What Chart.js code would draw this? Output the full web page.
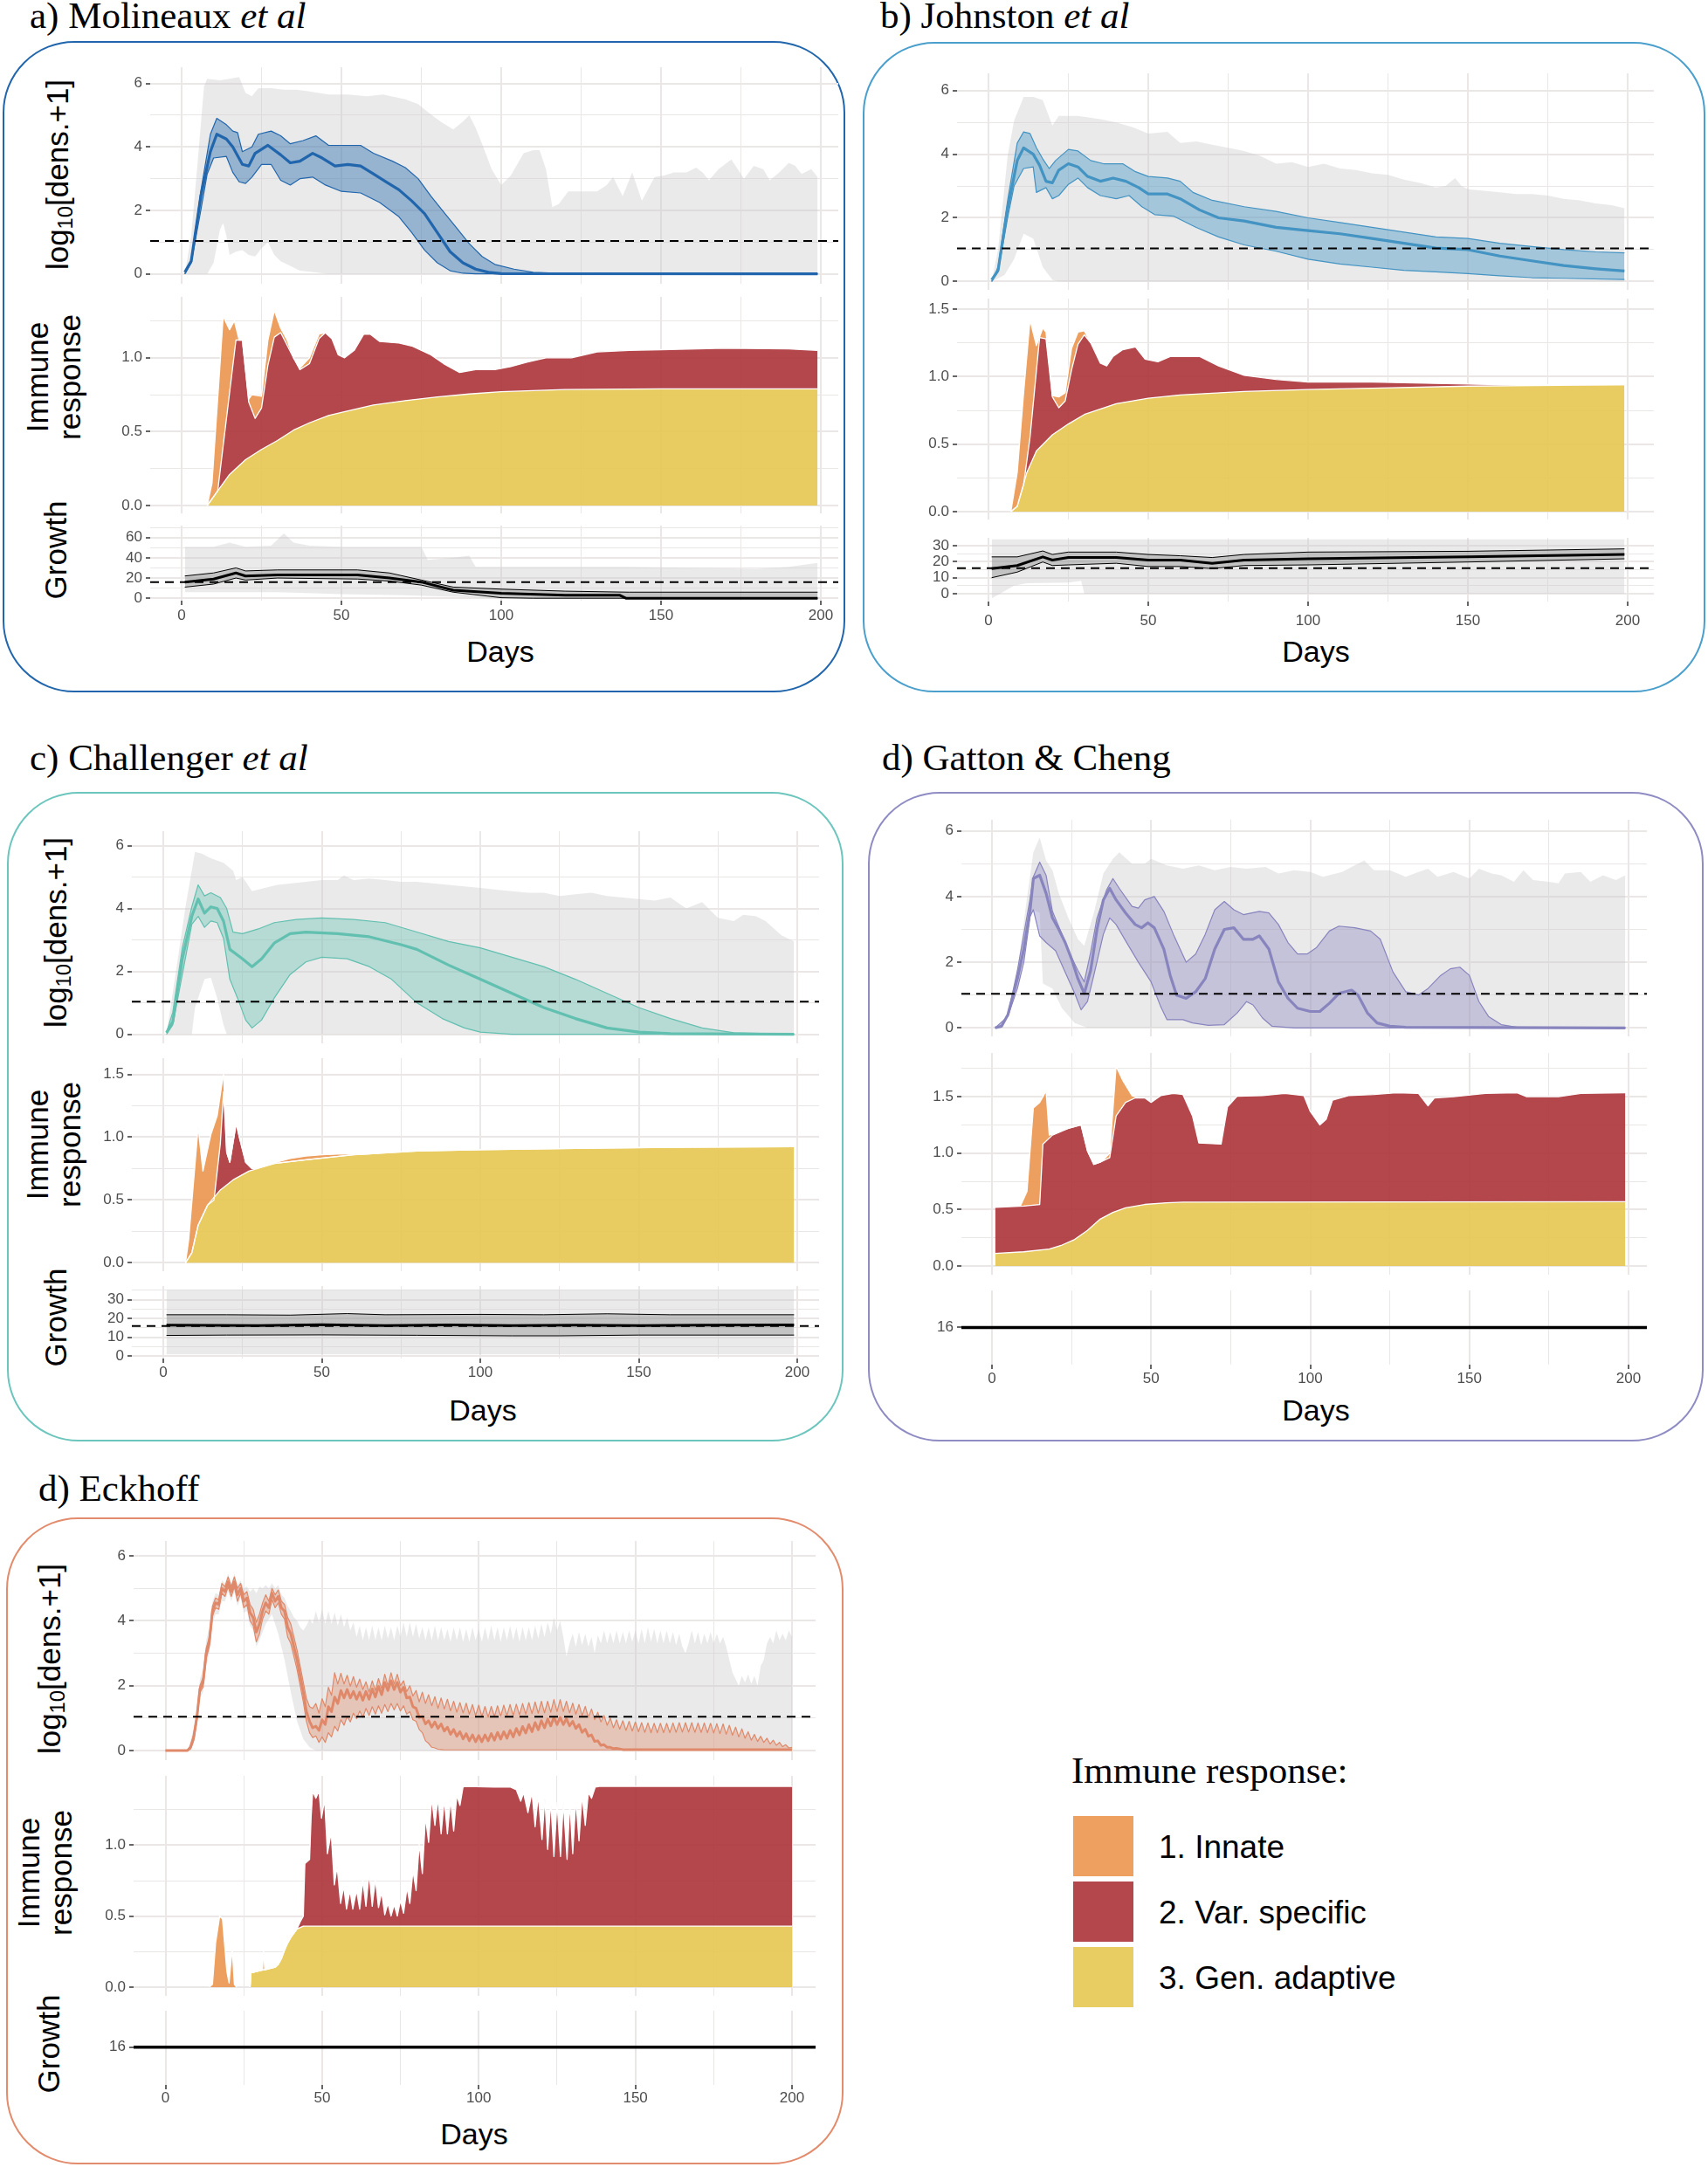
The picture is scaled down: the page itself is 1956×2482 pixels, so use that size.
<!DOCTYPE html>
<html>
<head>
<meta charset="utf-8">
<title>Within-host model comparison</title>
<script src="https://cdn.jsdelivr.net/npm/chart.js"></script>
<style>
  html, body { margin: 0; padding: 0; background: #fff; }
  #fig { position: relative; width: 1956px; height: 2482px; overflow: hidden; background: #fff; }
  canvas { position: absolute; }
  .box { position: absolute; box-sizing: border-box; border: 2.5px solid; border-radius: 82px; }
  .ptitle { position: absolute; font-family: 'Liberation Serif', 'Times New Roman', serif; font-size: 43px; line-height: 43px; white-space: nowrap; color: #000; }
  .ytitle { position: absolute; font-family: 'Liberation Sans', Arial, sans-serif; font-size: 35px; line-height: 37px; text-align: center; white-space: nowrap; color: #000; transform: translate(-50%, -50%) rotate(-90deg); }
  .ytitle sub { font-size: 0.68em; vertical-align: -0.22em; line-height: 0; }
  .xtitle { position: absolute; font-family: 'Liberation Sans', Arial, sans-serif; font-size: 34px; line-height: 34px; white-space: nowrap; color: #000; transform: translate(-50%, -50%); }
  .legtitle { position: absolute; left: 1227px; top: 2006px; font-family: 'Liberation Serif', 'Times New Roman', serif; font-size: 43px; line-height: 43px; white-space: nowrap; }
  .swatch { position: absolute; left: 1229px; width: 69px; height: 69px; }
  .leglabel { position: absolute; left: 1327px; font-family: 'Liberation Sans', Arial, sans-serif; font-size: 37px; line-height: 37px; white-space: nowrap; }
</style>
</head>
<body>
<div id="fig">
  <div class="box" style="left:3px;top:47px;width:965px;height:746px;border-color:#2166ac"></div>
  <div class="box" style="left:988px;top:48px;width:965px;height:745px;border-color:#4a9fcc"></div>
  <div class="box" style="left:8px;top:907px;width:958px;height:744px;border-color:#6cc6bd"></div>
  <div class="box" style="left:994px;top:907px;width:957px;height:744px;border-color:#8f8cc4"></div>
  <div class="box" style="left:7px;top:1738px;width:959px;height:741px;border-color:#e38b6d"></div>

  <div class="ptitle" style="left:34px;top:-4px">a) Molineaux <i>et al</i></div>
  <div class="ptitle" style="left:1008px;top:-4px">b) Johnston <i>et al</i></div>
  <div class="ptitle" style="left:34px;top:846px">c) Challenger <i>et al</i></div>
  <div class="ptitle" style="left:1010px;top:846px">d) Gatton &amp; Cheng</div>
  <div class="ptitle" style="left:44px;top:1683px">d) Eckhoff</div>

  <div class="ytitle" style="left:65px;top:200px">log<sub>10</sub>[dens.+1]</div>
  <div class="ytitle" style="left:61px;top:432px">Immune<br>response</div>
  <div class="ytitle" style="left:63px;top:630px">Growth</div>
  <div class="ytitle" style="left:63px;top:1068px">log<sub>10</sub>[dens.+1]</div>
  <div class="ytitle" style="left:61px;top:1311px">Immune<br>response</div>
  <div class="ytitle" style="left:63px;top:1509px">Growth</div>
  <div class="ytitle" style="left:56px;top:1900px">log<sub>10</sub>[dens.+1]</div>
  <div class="ytitle" style="left:51px;top:2145px">Immune<br>response</div>
  <div class="ytitle" style="left:55px;top:2341px">Growth</div>

  <div class="xtitle" style="left:573px;top:746px">Days</div>
  <div class="xtitle" style="left:1507px;top:746px">Days</div>
  <div class="xtitle" style="left:553px;top:1615px">Days</div>
  <div class="xtitle" style="left:1507px;top:1615px">Days</div>
  <div class="xtitle" style="left:543px;top:2444px">Days</div>

  <div class="legtitle">Immune response:</div>
  <div class="swatch" style="top:2080px;background:#eda060"></div>
  <div class="swatch" style="top:2155px;background:#b3474c"></div>
  <div class="swatch" style="top:2230px;background:#e8cd62"></div>
  <div class="leglabel" style="top:2097px">1. Innate</div>
  <div class="leglabel" style="top:2172px">2. Var. specific</div>
  <div class="leglabel" style="top:2247px">3. Gen. adaptive</div>
</div>
<script>
// ---------- axis ticks ----------
const dayTicks = [0, 25, 50, 75, 100, 125, 150, 175, 200];
const dayLabels = [0, 50, 100, 150, 200];
const densTicks = [0, 1, 2, 3, 4, 5, 6];
const densLabels = [0, 2, 4, 6];
const immTicks = [0, 0.25, 0.5, 0.75, 1, 1.25, 1.5, 1.75];
const immLabels = [0, 0.5, 1, 1.5];
const growTicksA = [0, 10, 20, 30, 40, 50, 60, 70];
const growLabelsA = [0, 20, 40, 60];
const growTicksBC = [0, 5, 10, 15, 20, 25, 30, 35];
const growLabelsBC = [0, 10, 20, 30];
const growTicksDE = [16];

const THRESHOLD = 1.04;   // detection limit, log10 scale
const GROWTH_REF = 16;    // reference multiplication rate
const dGrowthRate = 16;
const eGrowthRate = 16;

// ---------- a) Molineaux ----------
const aDensMax = [[1,0],[3,1.2],[5,3.5],[7,5.9],[8,6.15],[12,6.1],[15,6.15],[18,6.2],[20,5.7],[22,5.6],[24,5.85],[28,5.85],[32,5.8],[36,5.8],[40,5.75],[46,5.65],[52,5.65],[58,5.6],[63,5.65],[70,5.5],[74,5.35],[77,5.1],[81,4.8],[85,4.55],[88,4.8],[90,5.0],[92,4.6],[94,4.1],[97,3.3],[100,2.8],[103,3.1],[107,3.8],[110,3.9],[112,3.9],[114,3.3],[116,2.1],[118,2.2],[121,2.6],[126,2.6],[130,2.6],[133,2.8],[135,3.05],[138,2.45],[141,3.2],[144,2.3],[148,3.05],[151,3.1],[154,3.2],[158,3.2],[161,3.35],[163,3.2],[165,2.95],[168,3.3],[172,3.6],[176,3.0],[179,3.4],[182,3.3],[184,2.95],[187,3.2],[190,3.5],[192,3.4],[194,3.15],[197,3.3],[199,3.05]];
const aDensMin = [[1,0],[8,0],[10,0.35],[12,1.4],[13,1.6],[14,1.2],[15,0.6],[17,0.7],[19,0.75],[21,0.6],[23,0.55],[25,0.8],[27,1.0],[29,0.6],[31,0.4],[34,0.25],[37,0.1],[42,0.05],[46,0],[199,0]];
const aBandHi = [[1,0],[3,0.4],[6,2.6],[9,4.4],[11,4.9],[14,4.7],[16,4.5],[17.5,4.45],[19,3.85],[22,4.0],[24,4.4],[28,4.5],[31,4.35],[34,4.1],[38,4.2],[42,4.35],[46,4.05],[52,4.05],[56,4.05],[60,3.8],[66,3.55],[70,3.35],[74,3.0],[78,2.45],[82,1.95],[86,1.45],[90,0.95],[94,0.55],[98,0.3],[104,0.15],[110,0.05],[120,0.01],[199,0]];
const aMedian = [[1,0.05],[3,0.4],[6,2.45],[9,3.85],[11,4.4],[14,4.25],[16,4.0],[19,3.45],[21,3.4],[23,3.8],[27,4.05],[31,3.75],[34,3.5],[37,3.55],[41,3.8],[44,3.65],[48,3.4],[52,3.45],[56,3.4],[60,3.15],[64,2.9],[68,2.65],[72,2.3],[76,1.9],[80,1.3],[84,0.7],[88,0.35],[92,0.15],[96,0.05],[100,0.01],[199,0]];
const aBandLo = [[1,0],[3,0.35],[6,2.0],[8,3.15],[10,3.65],[14,3.7],[16,3.2],[18,2.9],[20,2.85],[22,3.05],[25,3.45],[28,3.45],[31,2.95],[34,2.8],[37,3.0],[41,3.05],[45,2.8],[50,2.6],[56,2.55],[62,2.25],[68,1.8],[72,1.3],[76,0.75],[80,0.35],[84,0.1],[88,0.02],[92,0],[199,0]];
const aImmAdaptive = [[8,0],[10,0.06],[12,0.12],[15,0.21],[20,0.31],[25,0.38],[30,0.44],[35,0.51],[40,0.56],[46,0.61],[50,0.63],[60,0.68],[70,0.71],[80,0.735],[90,0.755],[100,0.77],[120,0.785],[150,0.79],[199,0.79]];
const aImmVar = [[8,0],[10,0.06],[11.3,0.1],[17,1.12],[19,1.12],[21,0.7],[23,0.59],[25,0.66],[27,0.95],[29,1.14],[31,1.17],[35,1.0],[37,0.92],[40,0.96],[43,1.13],[45,1.17],[47,1.13],[49,1.02],[51,1.0],[54,1.05],[57,1.16],[59,1.16],[62,1.11],[68,1.1],[72,1.08],[78,1.02],[82,0.96],[87,0.9],[92,0.92],[98,0.92],[103,0.94],[108,0.97],[114,1.0],[122,1.0],[130,1.04],[140,1.05],[150,1.055],[170,1.065],[190,1.06],[199,1.05]];
const aImmInnate = [[8,0],[9.5,0.15],[12,0.95],[13,1.28],[15,1.19],[16.5,1.25],[18,1.12],[19,1.12],[21,0.72],[22,0.75],[25,0.74],[27,1.12],[29,1.32],[31,1.2],[33,1.12],[35,1.0],[37,0.93],[40,1.0],[43,1.16],[45,1.17],[47,1.13]];
const aGrowMax = [[1,51],[10,51],[15,55],[20,51],[28,52],[32,64],[35,55],[40,52],[50,51],[60,51],[70,51],[75,51],[77,38],[85,40],[90,42],[92,31],[100,31],[140,31],[180,29],[190,31],[199,35]];
const aGrowMin = [[1,6],[30,6],[50,4],[70,3],[100,0],[199,0]];
const aGrowHi = [[1,22],[10,25],[17,30],[20,27],[30,28],[55,28],[65,25],[75,18],[85,11],[100,9],[120,7],[140,6],[199,6]];
const aGrowMed = [[1,16],[10,19],[17,25],[20,22],[30,23],[55,23],[65,20],[75,16],[85,8],[100,5],[120,3],[137,3],[139,0],[199,0]];
const aGrowLo = [[1,11],[10,14],[17,20],[20,18],[30,20],[55,19],[65,17],[75,13],[85,6],[100,0.5],[110,0],[199,0]];

// ---------- b) Johnston ----------
const bDensMax = [[1,0],[3,1.0],[6,3.95],[8,5.05],[11,5.8],[14,5.8],[17,5.7],[20,4.9],[22,5.2],[28,5.2],[35,5.1],[40,5.0],[45,4.85],[50,4.65],[56,4.7],[60,4.35],[65,4.4],[70,4.3],[75,4.2],[80,4.1],[85,3.95],[90,3.7],[95,3.75],[100,3.6],[105,3.7],[110,3.55],[115,3.5],[120,3.4],[125,3.35],[130,3.2],[135,3.1],[140,2.95],[143,3.0],[146,3.25],[148,3.0],[150,2.9],[155,2.85],[160,2.8],[165,2.75],[170,2.75],[175,2.7],[180,2.6],[185,2.55],[190,2.45],[195,2.4],[199,2.3]];
const bDensMin = [[1,0],[5,0.2],[8,0.7],[11,1.5],[14,1.35],[17,0.45],[20,0.05],[22,0],[199,0]];
const bBandHi = [[1,0],[3,0.45],[6,2.55],[9,4.35],[11,4.7],[13,4.65],[15,4.2],[17,3.85],[19,3.55],[21,3.8],[25,4.15],[28,4.1],[32,3.8],[36,3.7],[42,3.7],[46,3.45],[50,3.3],[56,3.25],[60,3.15],[64,2.8],[70,2.55],[80,2.35],[90,2.2],[100,2.0],[110,1.85],[120,1.7],[130,1.55],[140,1.4],[150,1.35],[160,1.2],[170,1.1],[180,1.0],[190,0.93],[199,0.9]];
const bMedian = [[1,0.05],[3,0.35],[6,2.3],[9,3.8],[11,4.2],[14,4.0],[16,3.65],[18,3.15],[20,3.1],[22,3.5],[25,3.7],[28,3.6],[31,3.3],[35,3.15],[39,3.25],[43,3.15],[47,2.95],[50,2.75],[56,2.75],[60,2.6],[66,2.25],[72,2.0],[80,1.9],[90,1.7],[100,1.6],[110,1.5],[120,1.35],[130,1.2],[140,1.05],[150,1.0],[160,0.8],[170,0.65],[180,0.5],[190,0.4],[199,0.33]];
const bBandLo = [[1,0],[3,0.3],[6,2.0],[8,3.0],[11,3.55],[14,3.6],[15,2.8],[18,2.95],[20,2.6],[22,2.7],[25,3.05],[28,3.25],[31,2.95],[35,2.7],[40,2.6],[44,2.7],[48,2.35],[52,2.1],[58,2.05],[65,1.7],[72,1.4],[80,1.15],[90,0.95],[100,0.7],[110,0.55],[120,0.45],[130,0.35],[140,0.3],[150,0.25],[160,0.18],[170,0.12],[180,0.1],[199,0.06]];
const bImmAdaptive = [[7,0],[9,0.04],[12,0.29],[15,0.45],[20,0.57],[25,0.65],[30,0.72],[40,0.8],[50,0.84],[60,0.865],[80,0.89],[100,0.905],[120,0.915],[150,0.93],[199,0.94]];
const bImmVar = [[7,0],[9,0.04],[11,0.2],[13,0.55],[16,1.29],[18,1.28],[20,0.85],[22,0.77],[24,0.82],[26,1.05],[28,1.24],[30,1.31],[32,1.25],[35,1.1],[37,1.08],[39,1.15],[42,1.2],[46,1.22],[49,1.13],[53,1.11],[57,1.15],[62,1.15],[66,1.15],[72,1.08],[80,1.01],[90,0.98],[100,0.96],[120,0.96],[140,0.95],[160,0.94],[199,0.94]];
const bImmInnate = [[7,0],[9,0.29],[11,0.88],[13,1.42],[15,1.23],[17,1.36],[18,1.33],[20,0.86],[22,0.85],[24,0.88],[26,1.21],[28,1.33],[30,1.34],[32,1.25]];
const bGrowMax = [[1,34],[199,34]];
const bGrowMin = [[1,-3],[8,5],[12,6.5],[25,7],[29,8],[30,0],[199,0]];
const bGrowHi = [[1,23],[9,23],[17,26.7],[20,24.5],[25,26],[40,26],[50,24.5],[60,23.7],[70,22.6],[80,24.5],[100,26],[150,26.5],[199,28]];
const bGrowMed = [[1,15.7],[9,17.6],[17,23],[20,21],[25,22.6],[40,22.6],[50,21],[60,21],[70,19],[80,21],[100,21.8],[150,23],[199,24.5]];
const bGrowLo = [[1,10],[9,13.5],[17,19.8],[20,17.6],[25,18],[40,19],[50,17],[60,17],[70,15.7],[80,17.6],[100,18],[150,19.8],[199,21.8]];

// ---------- c) Challenger ----------
const cDensMax = [[1,0],[4,2.0],[7,4.05],[10,5.8],[12,5.75],[15,5.6],[19,5.45],[22,5.2],[23,4.9],[25,5.0],[28,4.55],[32,4.65],[36,4.75],[45,4.85],[50,4.9],[55,4.9],[57,5.05],[60,4.9],[65,4.95],[70,4.9],[75,4.85],[80,4.85],[85,4.8],[90,4.75],[95,4.7],[100,4.65],[105,4.6],[110,4.55],[115,4.5],[120,4.5],[125,4.4],[130,4.45],[135,4.5],[140,4.4],[145,4.35],[150,4.3],[155,4.25],[160,4.35],[165,4.0],[170,4.2],[175,3.7],[180,3.6],[183,3.8],[187,3.75],[190,3.6],[195,3.15],[199,2.95]];
const cDensMin = [[1,0],[9,0],[10,0.85],[13,1.75],[15,1.8],[17,1.15],[19,0.3],[20,0],[199,0]];
const cBandHi = [[1,0.05],[3,0.7],[6,2.75],[9,4.05],[11,4.75],[13,4.4],[15,4.5],[18,4.35],[20,4.0],[22,3.25],[25,3.2],[30,3.35],[35,3.55],[42,3.65],[50,3.7],[60,3.65],[70,3.55],[80,3.25],[90,2.95],[100,2.75],[110,2.45],[120,2.15],[130,1.75],[140,1.3],[150,0.85],[160,0.5],[170,0.2],[180,0.05],[199,0]];
const cMedian = [[1,0.05],[3,0.4],[6,2.4],[9,3.75],[11,4.3],[13,3.85],[15,4.05],[17,4.0],[19,3.6],[21,2.7],[25,2.4],[28,2.15],[31,2.4],[35,2.9],[40,3.2],[45,3.25],[55,3.2],[65,3.1],[75,2.85],[80,2.7],[90,2.2],[100,1.75],[110,1.3],[120,0.85],[130,0.5],[140,0.2],[150,0.07],[160,0.02],[199,0]];
const cBandLo = [[1,0],[3,0.3],[6,1.9],[9,3.5],[11,3.75],[13,3.4],[15,3.6],[17,3.55],[19,3.05],[21,1.75],[24,1.0],[26,0.45],[28,0.2],[31,0.45],[35,1.15],[40,1.9],[45,2.3],[50,2.45],[58,2.4],[65,2.15],[72,1.75],[80,1.0],[88,0.5],[95,0.2],[100,0.07],[110,0],[199,0]];
const cImmAdaptive = [[7,0],[9,0.08],[11,0.3],[14,0.46],[18,0.58],[22,0.66],[27,0.73],[35,0.79],[45,0.82],[60,0.86],[80,0.89],[100,0.9],[130,0.91],[160,0.92],[199,0.925]];
const cImmVar = [[7,0],[9,0.08],[11,0.3],[14,0.46],[16,0.5],[18,0.95],[19,1.36],[20,0.88],[21,0.8],[23,1.11],[24,1.0],[26,0.8],[28,0.75],[30,0.755],[35,0.79],[45,0.82],[60,0.86],[80,0.89],[100,0.9],[130,0.91],[160,0.92],[199,0.925]];
const cImmInnate = [[7,0],[8,0.18],[11,1.08],[12.5,0.73],[15,1.02],[17,1.17],[19,1.51],[20,0.88],[21,0.8],[23,1.11],[24,1.0],[26,0.8],[28,0.75],[30,0.755],[35,0.795],[40,0.83],[45,0.85],[50,0.86],[55,0.865],[60,0.865],[65,0.868],[68,0.872]];
const cGrowMax = [[1,35.3],[199,35.3]];
const cGrowMin = [[1,1],[199,1]];
const cGrowHi = [[1,22],[20,22],[40,21.8],[58,22.6],[70,22],[100,22.2],[120,22],[140,22.5],[160,22],[199,22]];
const cGrowMed = [[1,16.5],[30,16.3],[50,16.7],[70,16.3],[90,16.6],[110,16.2],[130,16.5],[150,16.3],[170,16.5],[199,16.6]];
const cGrowLo = [[1,11],[20,11.2],[50,11.3],[80,11.1],[110,10.8],[125,10.8],[150,11.2],[199,11.2]];

// ---------- d) Gatton & Cheng ----------
const dDensMax = [[1,0],[3,0],[5,0.4],[8,1.75],[11,3.95],[13,5.35],[15,5.8],[17,5.1],[19,4.8],[21,4.1],[24,3.35],[27,2.7],[29,2.5],[32,3.5],[35,4.7],[38,5.15],[40,5.35],[44,5.0],[48,5.0],[50,5.15],[55,4.95],[60,4.85],[65,4.95],[70,4.8],[75,4.9],[80,4.85],[86,4.9],[90,4.7],[95,4.8],[100,4.75],[104,4.6],[110,4.75],[113,4.9],[117,5.1],[120,4.8],[125,4.8],[130,4.6],[134,4.75],[137,4.85],[140,4.6],[145,4.75],[150,4.55],[153,4.85],[157,4.7],[160,4.65],[164,4.45],[167,4.8],[170,4.5],[175,4.45],[178,4.4],[180,4.7],[185,4.75],[188,4.45],[192,4.65],[196,4.5],[199,4.65]];
const dDensMin = [[1,0],[5,0.35],[8,1.6],[11,3.1],[13,3.6],[15,3.5],[16,1.35],[19,1.2],[22,0.6],[26,0.15],[30,0],[199,0]];
const dBandHi = [[1,0],[3,0.05],[5,0.4],[8,1.75],[10,2.85],[12,3.95],[13,4.6],[15,5.05],[17,4.65],[19,3.55],[22,2.85],[25,2.15],[27,1.75],[29,1.4],[31,2.3],[33,3.35],[36,4.2],[38,4.55],[40,4.25],[44,3.7],[46,3.65],[48,3.9],[51,4.0],[54,3.55],[57,2.85],[61,2.0],[64,2.25],[67,2.85],[70,3.6],[73,3.85],[76,3.6],[79,3.45],[84,3.55],[87,3.5],[90,3.15],[93,2.6],[96,2.25],[99,2.25],[102,2.45],[106,2.95],[109,3.1],[114,3.05],[119,2.95],[122,2.7],[126,1.7],[130,1.1],[134,1.0],[137,1.2],[141,1.6],[144,1.8],[147,1.85],[150,1.6],[153,0.8],[156,0.35],[160,0.1],[165,0.02],[199,0]];
const dMedian = [[1,0],[3,0.05],[5,0.4],[8,1.5],[10,2.4],[12,3.6],[13,4.55],[15,4.65],[17,4.1],[19,3.35],[21,3.0],[23,2.6],[25,2.1],[27,1.5],[29,1.05],[31,1.75],[33,3.0],[35,3.9],[37,4.25],[39,3.9],[42,3.5],[45,3.15],[47,3.05],[49,3.2],[51,3.05],[54,2.4],[56,1.6],[58,1.0],[61,0.9],[64,1.1],[67,1.5],[70,2.4],[73,3.0],[76,3.05],[79,2.7],[82,2.7],[84,2.8],[87,2.4],[90,1.4],[93,0.9],[96,0.6],[100,0.5],[103,0.5],[106,0.75],[109,1.05],[113,1.15],[115,1.0],[118,0.45],[121,0.15],[125,0.05],[130,0.02],[199,0]];
const dBandLo = [[1,0],[5,0.35],[8,1.2],[10,2.0],[12,3.4],[13,3.6],[15,2.8],[17,2.6],[20,2.35],[23,1.7],[26,1.05],[28,0.55],[30,0.8],[32,1.6],[35,2.85],[37,3.35],[39,3.15],[42,2.65],[46,2.0],[50,1.4],[53,0.65],[55,0.25],[60,0.25],[63,0.15],[68,0.08],[73,0.1],[77,0.45],[80,0.8],[82,0.7],[85,0.3],[88,0.05],[95,0],[199,0]];
const dImmAdaptive = [[1,0.11],[10,0.125],[18,0.15],[22,0.185],[26,0.235],[30,0.315],[34,0.415],[38,0.475],[42,0.515],[48,0.545],[55,0.56],[60,0.565],[199,0.57]];
const dImmVar = [[1,0.52],[10,0.53],[15,0.545],[16,1.08],[19,1.16],[24,1.22],[28,1.25],[30,1.02],[32,0.9],[34,0.92],[37,0.96],[39,1.33],[42,1.45],[45,1.49],[48,1.49],[50,1.45],[53,1.51],[57,1.53],[60,1.52],[63,1.33],[65,1.09],[72,1.08],[74,1.41],[77,1.505],[85,1.51],[92,1.53],[98,1.51],[100,1.37],[103,1.25],[105,1.3],[107,1.47],[112,1.51],[120,1.52],[127,1.535],[134,1.53],[137,1.42],[139,1.49],[145,1.5],[155,1.53],[165,1.535],[168,1.5],[178,1.5],[185,1.53],[199,1.535]];
const dImmInnate = [[9,0.535],[11,0.66],[13,1.4],[15,1.45],[17,1.55],[18,1.16],[20,1.175],[22,1.2],[24,1.22],[28,1.25],[30,1.02],[32,0.9],[34,0.92],[35,0.94],[37,1.0],[39,1.77],[41,1.65],[44,1.51],[46,1.49]];

// ---------- e) Eckhoff (daily values, index = day) ----------
const eBandHi = [
  0,0,0,0,0,0,0,0,0.15,0.5,
  1.1,2.0,2.25,3.15,3.5,4.45,4.7,4.65,5.15,5.05,
  5.35,5.05,5.35,5.0,5.15,4.8,4.9,4.5,4.35,3.95,
  4.2,4.55,4.8,4.6,5.0,4.8,4.95,4.6,4.5,4.1,
  3.9,3.5,3.1,2.6,2.1,1.6,1.35,1.3,1.45,1.15,
  1.60,1.35,1.95,1.70,2.40,2.05,2.38,2.05,2.32,1.98,
  2.28,1.95,2.20,1.88,2.12,1.80,2.15,1.85,2.22,1.90,
  2.35,2.0,2.40,2.05,2.35,2.0,2.15,1.82,2.0,1.68,
  1.85,1.50,1.80,1.45,1.72,1.38,1.66,1.30,1.62,1.28,
  1.58,1.22,1.52,1.18,1.48,1.16,1.46,1.12,1.42,1.08,
  1.40,1.05,1.36,1.03,1.36,1.05,1.38,1.06,1.40,1.08,
  1.42,1.08,1.43,1.10,1.45,1.12,1.48,1.14,1.50,1.15,
  1.52,1.16,1.52,1.18,1.57,1.20,1.57,1.20,1.52,1.16,
  1.46,1.12,1.42,1.08,1.36,1.02,1.28,0.95,1.18,0.88,
  1.08,0.78,1.00,0.70,0.95,0.66,0.92,0.62,0.90,0.60,
  0.88,0.58,0.86,0.56,0.85,0.55,0.84,0.55,0.84,0.55,
  0.84,0.55,0.85,0.56,0.86,0.57,0.86,0.57,0.86,0.56,
  0.85,0.56,0.85,0.55,0.84,0.54,0.83,0.52,0.82,0.50,
  0.78,0.47,0.72,0.42,0.67,0.38,0.58,0.32,0.50,0.28,
  0.44,0.25,0.38,0.20,0.32,0.16,0.25,0.12,0.18,0.08,
  0.10
];
const eMedian = [
  0,0,0,0,0,0,0,0,0.1,0.4,
  1.0,1.9,2.1,3.0,3.35,4.3,4.55,4.5,5.0,4.9,
  5.2,4.9,5.2,4.8,5.0,4.6,4.7,4.25,4.1,3.65,
  3.9,4.3,4.55,4.4,4.85,4.6,4.75,4.4,4.3,3.8,
  3.6,3.2,2.8,2.3,1.8,1.2,0.9,0.7,0.75,0.62,
  0.95,0.80,1.35,1.20,1.65,1.45,1.85,1.62,1.88,1.62,
  1.82,1.58,1.80,1.55,1.82,1.58,1.90,1.65,1.98,1.72,
  2.10,1.85,2.15,1.88,2.10,1.80,1.95,1.62,1.65,1.35,
  1.30,1.02,1.05,0.82,0.92,0.72,0.88,0.68,0.82,0.60,
  0.72,0.50,0.65,0.44,0.58,0.36,0.52,0.30,0.48,0.27,
  0.46,0.27,0.48,0.30,0.52,0.32,0.56,0.35,0.58,0.38,
  0.62,0.42,0.68,0.48,0.74,0.54,0.80,0.58,0.86,0.64,
  0.92,0.70,0.97,0.76,1.02,0.80,1.02,0.80,0.98,0.76,
  0.90,0.68,0.80,0.56,0.66,0.44,0.48,0.28,0.30,0.16,
  0.18,0.10,0.10,0.06,0.07,0.05
];
const eMedianTail = [[146,0.03],[200,0.03]];
const eBandLo = [
  0,0,0,0,0,0,0,0,0.05,0.3,
  0.9,1.8,1.95,2.85,3.2,4.15,4.4,4.35,4.85,4.75,
  5.05,4.75,5.05,4.6,4.85,4.4,4.5,4.0,3.85,3.35,
  3.6,4.05,4.3,4.2,4.65,4.4,4.55,4.2,4.05,3.5,
  3.3,2.9,2.5,2.0,1.5,0.9,0.55,0.4,0.45,0.25,
  0.42,0.25,0.55,0.42,0.75,0.60,0.95,0.78,1.05,0.88,
  1.15,0.98,1.22,1.02,1.30,1.08,1.35,1.12,1.38,1.15,
  1.42,1.20,1.45,1.25,1.45,1.22,1.38,1.12,1.20,0.95,
  0.90,0.65,0.55,0.30,0.22,0.10,0.08,0.04,0.03,0.02,
  0.02
];
const eBandLoTail = [[91,0.02],[200,0.02]];
const eDensMax = [
  0,0,0,0,0,0,0,0,0.3,0.7,
  1.3,2.2,2.5,3.4,3.8,4.6,4.85,4.8,5.25,5.15,
  5.45,5.15,5.45,5.1,5.25,5.0,5.05,4.9,5.0,4.85,
  5.05,5.0,5.1,5.0,5.15,5.0,5.1,4.8,4.7,4.45,
  4.3,4.1,4.0,3.8,3.7,3.85,4.05,3.9,4.3,3.95,
  4.35,3.9,4.3,3.9,4.25,3.85,4.2,3.8,4.1,3.7,
  3.95,3.5,3.85,3.4,3.8,3.4,3.85,3.4,3.8,3.4,
  3.85,3.45,3.8,3.4,3.85,3.5,3.95,3.5,3.95,3.5,
  3.9,3.45,3.8,3.4,3.8,3.4,3.85,3.4,3.8,3.4,
  3.75,3.35,3.8,3.4,3.8,3.35,3.75,3.35,3.8,3.4,
  3.75,3.35,3.8,3.4,3.85,3.4,3.8,3.35,3.8,3.4,
  3.85,3.4,3.8,3.35,3.8,3.4,3.8,3.4,3.85,3.45,
  3.9,3.5,3.95,3.6,4.1,3.7,4.0,3.5,2.9,3.3,
  3.6,3.2,3.65,3.25,3.6,3.2,3.5,3.0,3.55,3.3,
  3.7,3.3,3.65,3.3,3.7,3.3,3.65,3.3,3.7,3.35,
  3.7,3.3,3.75,3.3,3.8,3.35,3.75,3.3,3.7,3.3,
  3.7,3.3,3.65,3.25,3.6,3.2,3.0,3.3,3.7,3.3,
  3.65,3.25,3.6,3.3,3.65,3.3,3.6,3.3,3.5,3.2,
  2.8,2.4,2.2,2.0,2.3,2.1,2.35,2.05,2.3,2.0,
  2.6,2.8,3.3,3.5,3.3,3.7,3.4,3.6,3.4,3.7,
  3.5
];
const eDensMin = [[0,0],[8,0],[9,0.2],[10,0.8],[11,1.6],[12,1.8],[13,2.6],[14,3.0],[15,3.9],[16,4.2],[17,4.2],[18,4.6],[19,4.6],[20,4.9],[21,4.6],[22,4.9],[23,4.45],[24,4.7],[25,4.25],[26,4.3],[27,3.85],[28,3.7],[29,3.2],[30,3.4],[32,3.9],[34,4.2],[36,3.6],[38,2.8],[40,1.8],[42,0.9],[44,0.35],[46,0.1],[48,0],[200,0]];
const eImmAdaptive = [[14,0],[27,0],[27.3,0.1],[31,0.12],[35,0.14],[36,0.16],[37,0.2],[38,0.26],[39,0.31],[40,0.35],[42,0.41],[44,0.43],[200,0.43]];
const eImmVar = [[14,0],[27,0],[27.3,0.1],[31,0.12],[35,0.14],[36,0.16],[37,0.2],[38,0.26],[39,0.31],[40,0.35],[42,0.41],[43,0.46],[44,0.5],[44.5,0.87],[46,0.9],[46.5,1.2],[47,1.38],[48,1.33],[49,1.38],[49.8,1.19],[50.8,1.32],[51.7,0.94],[52.9,1.09],[53.9,0.72],[54.8,0.85],[55.9,0.59],[56.9,0.71],[57.8,0.55],[58.9,0.68],[59.8,0.55],[61,0.68],[62,0.55],[63,0.75],[64,0.57],[65,0.8],[66,0.57],[67,0.76],[68,0.56],[69,0.67],[70,0.51],[71,0.59],[72,0.5],[73,0.58],[74,0.5],[75,0.61],[76,0.52],[77.1,0.7],[78,0.59],[79,0.82],[80,0.68],[81,1.01],[82,0.8],[83,1.2],[84,1.02],[85,1.33],[86,1.14],[87,1.33],[88,1.08],[89,1.32],[90,1.08],[91,1.32],[92,1.1],[93,1.35],[94,1.28],[95,1.41],[96,1.414],[105,1.41],[110,1.41],[112,1.39],[113.4,1.31],[114.3,1.37],[115.7,1.23],[117,1.37],[118,1.13],[119,1.35],[120.2,1.04],[121.1,1.33],[122,0.97],[123,1.31],[124,0.92],[125,1.3],[126.1,0.92],[127,1.3],[128.2,0.9],[129.1,1.3],[130,0.94],[131,1.32],[132,1.03],[133,1.35],[134,1.14],[135,1.37],[136,1.33],[137.2,1.41],[138.6,1.414],[200,1.414]];
const eImmInnate = [[14,0],[15,0.02],[16,0.31],[17.3,0.5],[18.2,0.48],[19.6,0.11],[20.3,0.03],[21.3,0.27],[22,0.02],[22.7,0],[27,0],[27.3,0.1],[31,0.12],[31.3,0.26],[31.7,0.12],[35,0.14]];

// ---------- layout (pixels) ----------
const YAXW = 60, XAXH = 34, XTICK = 5;
const TICK_FONT = { family: "'Liberation Sans', Arial, sans-serif", size: 17 };
const TICK_COLOR = '#4d4d4d';
const GRID = '#ebe7e7';
const CLEAR = 'rgba(0,0,0,0)';
const GRAY_FILL = 'rgba(200,200,200,0.38)';
const INNER_FILL = 'rgba(140,140,140,0.42)';
const ORA = 'rgba(235,149,78,0.9)', RED = 'rgba(171,51,56,0.9)', YEL = 'rgba(229,199,81,0.9)';

const styles = {
  a: { line: '#2166ac', band: 'rgba(33,102,172,0.42)' },
  b: { line: '#4393c3', band: 'rgba(67,147,195,0.42)' },
  c: { line: '#62c0b0', band: 'rgba(98,192,176,0.38)' },
  d: { line: '#8884be', band: 'rgba(136,132,190,0.38)' },
  e: { line: '#e0896a', band: 'rgba(224,137,106,0.38)' }
};

const layout = {
  a: { left: 172, right: 960, d0: 208, d200: 940,
       dens: { top: 76.6, bottom: 324.5, v: [0, 313.7], w: [6, 95.6] },
       imm: { top: 339.8, bottom: 587.6, v: [0, 579], w: [1, 409.8] },
       grow: { top: 602, bottom: 688, v: [0, 685.2], w: [60, 615.7] }, labelY: 705 },
  b: { left: 1096, right: 1894, d0: 1132, d200: 1864,
       dens: { top: 84.3, bottom: 332, v: [0, 322.4], w: [6, 103.7] },
       imm: { top: 342.4, bottom: 595.3, v: [0, 586.1], w: [1.5, 354.1] },
       grow: { top: 615.7, bottom: 689, v: [0, 680], w: [30, 625] }, labelY: 711 },
  c: { left: 151, right: 938, d0: 187, d200: 913,
       dens: { top: 952.3, bottom: 1195.1, v: [0, 1184.6], w: [6, 968.5] },
       imm: { top: 1211.8, bottom: 1456.2, v: [0, 1446.3], w: [1.5, 1230.6] },
       grow: { top: 1472.9, bottom: 1556, v: [0, 1553.3], w: [30, 1488.6] }, labelY: 1572 },
  d: { left: 1101, right: 1886, d0: 1136, d200: 1865,
       dens: { top: 939.2, bottom: 1187.3, v: [0, 1177.3], w: [6, 951.7] },
       imm: { top: 1205.5, bottom: 1460.4, v: [0, 1449.9], w: [1.5, 1256.2] },
       grow: { top: 1478.1, bottom: 1563.2, v: [16, 1520.4], k: 40 }, labelY: 1579 },
  e: { left: 153, right: 934, d0: 189.5, d200: 907,
       dens: { top: 1764.7, bottom: 2016, v: [0, 2005], w: [6, 1782] },
       imm: { top: 2034, bottom: 2285.6, v: [0, 2276], w: [1, 2113.4] },
       grow: { top: 2303, bottom: 2387.7, v: [16, 2344.8], k: 40 }, labelY: 2403.5 }
};

// ---------- helpers ----------
const fig = document.getElementById('fig');
const pairs = a => a.map(p => ({ x: p[0], y: p[1] }));
const daily = a => a.map((v, i) => ({ x: i, y: v }));
const across = (v, xr) => [{ x: xr.min, y: v }, { x: xr.max, y: v }];
const isIn = (arr, v) => arr.some(a => Math.abs(a - v) < 1e-9);
const fmtInt = v => String(v);
const fmtOne = v => v.toFixed(1);

function xRange(L, l, r) {
  const k = (L.d200 - L.d0) / 200;
  return { min: -(L.d0 - l) / k, max: 200 + (r - L.d200) / k };
}
function yRange(s, t, b) {
  const k = s.k || (s.v[1] - s.w[1]) / (s.w[0] - s.v[0]);
  return { min: s.v[0] - (b - s.v[1]) / k, max: s.v[0] + (s.v[1] - t) / k };
}

function gridOpts(labels, showTicks) {
  return {
    color: GRID,
    lineWidth: c => (c.tick && isIn(labels, c.tick.value)) ? 2 : 1,
    drawTicks: showTicks,
    tickLength: XTICK,
    tickWidth: 1.5,
    tickColor: c => (c.tick && isIn(labels, c.tick.value)) ? '#333333' : CLEAR
  };
}

function addChart(L, spec, yTicks, yLabels, fmt, makeSets, withX) {
  const l = Math.round(L.left), r = Math.round(L.right);
  const t = Math.round(spec.top), b = Math.round(spec.bottom);
  const xr = xRange(L, l, r), yr = yRange(spec, t, b);
  const cv = document.createElement('canvas');
  const w = r - l + YAXW, h = b - t + (withX ? XAXH : 0);
  cv.width = w; cv.height = h;
  cv.style.left = (l - YAXW) + 'px'; cv.style.top = t + 'px';
  cv.style.width = w + 'px'; cv.style.height = h + 'px';
  fig.appendChild(cv);
  const xPad = withX ? Math.max(0, L.labelY - b - XTICK - 10.2) : 0;
  const zeroPad = s => { s.paddingLeft = 0; s.paddingRight = 0; s.paddingTop = 0; s.paddingBottom = 0; };

  new Chart(cv, {
    type: 'line',
    data: { datasets: makeSets(xr) },
    options: {
      responsive: false, animation: false, devicePixelRatio: 1, events: [],
      layout: { padding: 0 },
      elements: { point: { radius: 0 }, line: { tension: 0, borderJoinStyle: 'round' } },
      plugins: { legend: { display: false }, tooltip: { enabled: false }, filler: { drawTime: 'beforeDatasetsDraw' } },
      scales: {
        x: {
          type: 'linear', min: xr.min, max: xr.max,
          afterBuildTicks: s => { s.ticks = dayTicks.filter(v => v >= xr.min && v <= xr.max).map(v => ({ value: v })); },
          afterFit: s => { s.height = withX ? XAXH : 0; zeroPad(s); },
          grid: gridOpts(dayLabels, withX),
          border: { display: false },
          ticks: { display: withX, autoSkip: false, maxRotation: 0, padding: xPad, font: TICK_FONT, color: TICK_COLOR,
                   callback: v => isIn(dayLabels, v) ? fmtInt(v) : '' }
        },
        y: {
          type: 'linear', min: yr.min, max: yr.max,
          afterBuildTicks: s => { s.ticks = yTicks.filter(v => v >= yr.min && v <= yr.max).map(v => ({ value: v })); },
          afterFit: s => { s.width = YAXW; zeroPad(s); },
          grid: gridOpts(yLabels, true),
          border: { display: false },
          ticks: { autoSkip: false, padding: 4, font: TICK_FONT, color: TICK_COLOR,
                   callback: v => isIn(yLabels, v) ? fmt(v) : '' }
        }
      }
    }
  });
}

const whiteEdge = { borderColor: c => (c.p0.parsed.y === 0 && c.p1.parsed.y === 0) ? CLEAR : '#ffffff' };

function densSets(st, gHi, gLo, hi, lo, med, medWidth) {
  return xr => [
    { data: gHi, fill: 1, backgroundColor: GRAY_FILL, borderColor: CLEAR, borderWidth: 1, order: 9 },
    { data: gLo, fill: false, borderColor: CLEAR, borderWidth: 1, order: 9 },
    { data: hi, fill: 3, backgroundColor: st.band, borderColor: st.line, borderWidth: 1.2, order: 5 },
    { data: lo, fill: false, borderColor: st.line, borderWidth: 1.2, order: 5 },
    { data: med, fill: false, borderColor: st.line, borderWidth: medWidth || 3.2, order: 2 },
    { data: across(THRESHOLD, xr), fill: false, borderColor: '#000', borderWidth: 2, borderDash: [10, 7], order: 1 }
  ];
}
function immSets(adapt, varTop, innate) {
  return () => [
    { data: pairs(adapt), fill: 'origin', backgroundColor: YEL, borderColor: '#fff', borderWidth: 1.3, segment: whiteEdge, order: 3 },
    { data: pairs(varTop), fill: 0, backgroundColor: RED, borderColor: '#fff', borderWidth: 1.3, segment: whiteEdge, order: 2 },
    { data: pairs(innate), fill: 1, backgroundColor: ORA, borderColor: '#fff', borderWidth: 1.3, segment: whiteEdge, order: 1 }
  ];
}
function growSets(gHi, gLo, hi, lo, med) {
  return xr => [
    { data: pairs(gHi), fill: 1, backgroundColor: GRAY_FILL, borderColor: CLEAR, borderWidth: 1, order: 9 },
    { data: pairs(gLo), fill: false, borderColor: CLEAR, borderWidth: 1, order: 9 },
    { data: pairs(hi), fill: 3, backgroundColor: INNER_FILL, borderColor: '#000', borderWidth: 1, order: 5 },
    { data: pairs(lo), fill: false, borderColor: '#000', borderWidth: 1, order: 5 },
    { data: pairs(med), fill: false, borderColor: '#000', borderWidth: 3, order: 2 },
    { data: across(GROWTH_REF, xr), fill: false, borderColor: '#000', borderWidth: 2, borderDash: [10, 7], order: 1 }
  ];
}
function flatGrowSets(rate) {
  return xr => [{ data: across(rate, xr), fill: false, borderColor: '#000', borderWidth: 3.5 }];
}

// ---------- build ----------
const A = layout.a, B = layout.b, C = layout.c, D = layout.d, E = layout.e;

addChart(A, A.dens, densTicks, densLabels, fmtInt, densSets(styles.a, pairs(aDensMax), pairs(aDensMin), pairs(aBandHi), pairs(aBandLo), pairs(aMedian)), false);
addChart(A, A.imm, immTicks, immLabels, fmtOne, immSets(aImmAdaptive, aImmVar, aImmInnate), false);
addChart(A, A.grow, growTicksA, growLabelsA, fmtInt, growSets(aGrowMax, aGrowMin, aGrowHi, aGrowLo, aGrowMed), true);

addChart(B, B.dens, densTicks, densLabels, fmtInt, densSets(styles.b, pairs(bDensMax), pairs(bDensMin), pairs(bBandHi), pairs(bBandLo), pairs(bMedian)), false);
addChart(B, B.imm, immTicks, immLabels, fmtOne, immSets(bImmAdaptive, bImmVar, bImmInnate), false);
addChart(B, B.grow, growTicksBC, growLabelsBC, fmtInt, growSets(bGrowMax, bGrowMin, bGrowHi, bGrowLo, bGrowMed), true);

addChart(C, C.dens, densTicks, densLabels, fmtInt, densSets(styles.c, pairs(cDensMax), pairs(cDensMin), pairs(cBandHi), pairs(cBandLo), pairs(cMedian)), false);
addChart(C, C.imm, immTicks, immLabels, fmtOne, immSets(cImmAdaptive, cImmVar, cImmInnate), false);
addChart(C, C.grow, growTicksBC, growLabelsBC, fmtInt, growSets(cGrowMax, cGrowMin, cGrowHi, cGrowLo, cGrowMed), true);

addChart(D, D.dens, densTicks, densLabels, fmtInt, densSets(styles.d, pairs(dDensMax), pairs(dDensMin), pairs(dBandHi), pairs(dBandLo), pairs(dMedian)), false);
addChart(D, D.imm, immTicks, immLabels, fmtOne, immSets(dImmAdaptive, dImmVar, dImmInnate), false);
addChart(D, D.grow, growTicksDE, growTicksDE, fmtInt, flatGrowSets(dGrowthRate), true);

addChart(E, E.dens, densTicks, densLabels, fmtInt,
  densSets(styles.e, daily(eDensMax), pairs(eDensMin), daily(eBandHi),
           daily(eBandLo).concat(pairs(eBandLoTail)), daily(eMedian).concat(pairs(eMedianTail)), 3), false);
addChart(E, E.imm, immTicks, immLabels, fmtOne, immSets(eImmAdaptive, eImmVar, eImmInnate), false);
addChart(E, E.grow, growTicksDE, growTicksDE, fmtInt, flatGrowSets(eGrowthRate), true);
</script>
</body>
</html>
